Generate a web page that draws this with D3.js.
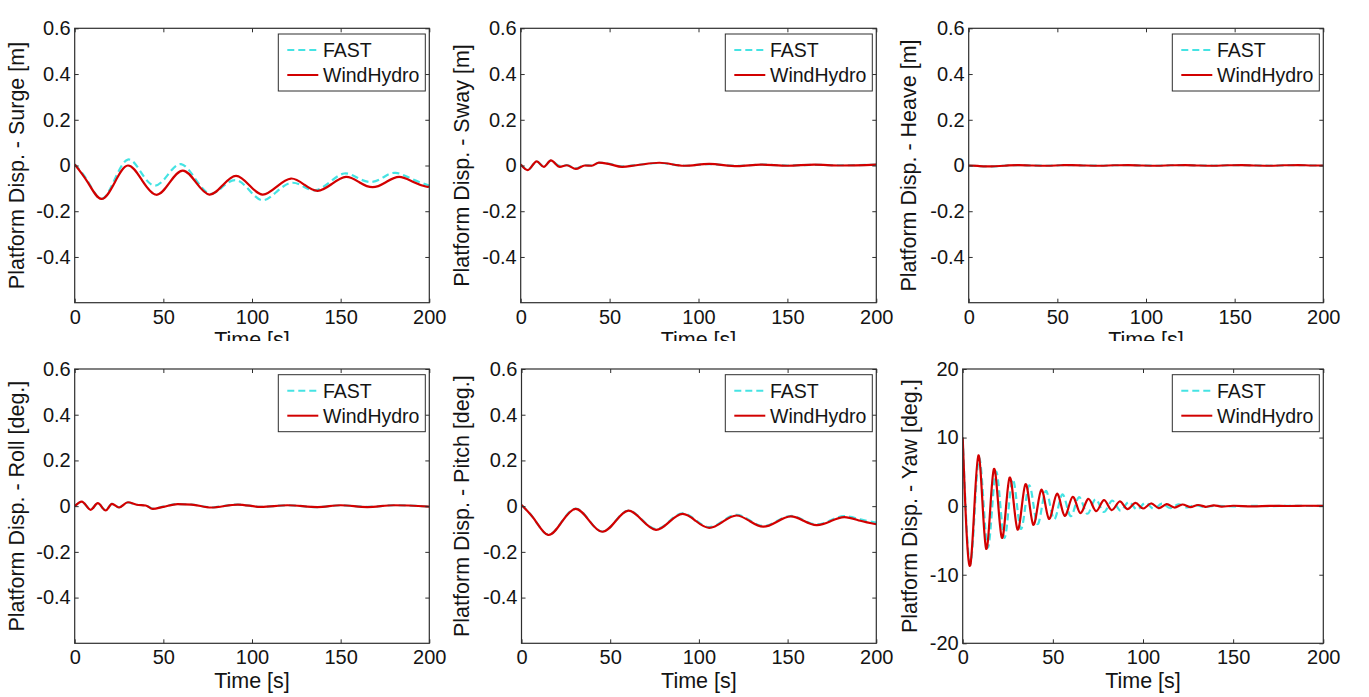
<!DOCTYPE html>
<html><head><meta charset="utf-8">
<script src="https://cdn.jsdelivr.net/npm/d3@7"></script>
<style>
body{margin:0;background:#fff}
svg{display:block}
text{font-family:"Liberation Sans",Arial,sans-serif;fill:#141414}
</style>
</head><body>
<svg id="chart" width="1369" height="697"></svg>
<script>
// ---------------- data ----------------
const seriesNames = ["FAST", "WindHydro"];
const xTickValues = [0, 50, 100, 150, 200];
const xTickLabels = ["0", "50", "100", "150", "200"];
const dispTickValues = [-0.4, -0.2, 0, 0.2, 0.4, 0.6];
const dispTickLabels = ["-0.4", "-0.2", "0", "0.2", "0.4", "0.6"];
const yawTickValues = [-20, -10, 0, 10, 20];
const yawTickLabels = ["-20", "-10", "0", "10", "20"];

// Surge [m]
const surgeTimeFAST = [0,7.5,15,22.5,30,37.5,45,52.5,60,68,76,83.5,91,98.5,106,114,122,129,136,144,152,159.5,167,174,181,190.5,200];
const surgeFAST     = [0.005,-0.07,-0.146,-0.062,0.026,-0.031,-0.088,-0.041,0.006,-0.058,-0.123,-0.093,-0.064,-0.108,-0.152,-0.114,-0.076,-0.092,-0.108,-0.072,-0.035,-0.054,-0.072,-0.052,-0.032,-0.060,-0.088];
const surgeTimeWH   = [0,7.5,15,22.5,30,38,46,53.5,61,68.5,76,83.5,91,98.5,106,114,122,129.5,137,145,153,160.5,168,175.5,183,191,198,200];
const surgeWH       = [0.005,-0.075,-0.146,-0.075,0.0,-0.065,-0.128,-0.075,-0.022,-0.075,-0.127,-0.086,-0.045,-0.086,-0.127,-0.092,-0.057,-0.084,-0.111,-0.081,-0.050,-0.073,-0.095,-0.073,-0.050,-0.072,-0.092,-0.091];

// Sway [m]
const swayTime = [0,4,9,13,17,22,26,31,36,40,44,50,57,65,78,92,106,122,135,150,165,180,200];
const swayFAST = [0.005,-0.019,0.017,-0.005,0.021,-0.002,0.002,-0.013,0.001,0.0,0.012,0.007,-0.004,0.002,0.011,-0.001,0.006,-0.002,0.004,0.0,0.003,0.001,0.004];
const swayWH   = [0.005,-0.020,0.018,-0.006,0.022,-0.006,0.001,-0.015,0.0,-0.001,0.013,0.006,-0.006,0.001,0.012,-0.001,0.007,-0.003,0.004,-0.001,0.004,0.0,0.004];

// Heave [m]
const heaveTime = [0,5,13,20,28,36,44,52,58,66,74,82,90,98,106,114,122,130,138,146,154,162,170,178,186,194,200];
const heaveFAST = [0.0,-0.002,-0.004,-0.001,0.002,0.0,-0.001,0.001,0.002,0.0,-0.001,0.001,0.002,0.0,-0.001,0.001,0.002,0.0,-0.001,0.001,0.002,0.0,-0.001,0.001,0.002,0.0,0.0];
const heaveWH   = [0.0,-0.002,-0.004,-0.001,0.002,0.0,-0.001,0.001,0.002,0.0,-0.001,0.001,0.002,0.0,-0.001,0.001,0.002,0.0,-0.001,0.001,0.002,0.0,-0.001,0.001,0.002,0.0,0.0];

// Roll [deg.]
const rollTime = [0,4,9,13,17.5,21,25,30,35,40,44,50,58,66,77,92,105,120,137,150,165,180,200];
const rollFAST = [0.0,0.019,-0.015,0.012,-0.018,0.010,-0.005,0.016,0.006,0.004,-0.011,-0.002,0.009,0.007,-0.005,0.007,-0.003,0.004,-0.004,0.004,-0.003,0.004,-0.002];
const rollWH   = [0.0,0.020,-0.016,0.013,-0.019,0.010,-0.006,0.017,0.006,0.003,-0.012,-0.003,0.009,0.007,-0.006,0.007,-0.003,0.004,-0.004,0.004,-0.004,0.004,-0.002];

// Pitch [deg.]
const pitchTime = [0,7.5,15,22.7,30.5,38,45.5,53,60.3,68,75.8,83.3,90.8,98.3,105.8,113.5,121.2,128.8,136.3,144,151.7,159,166.4,174.2,182,191,200];
const pitchFAST = [0.005,-0.06,-0.125,-0.068,-0.011,-0.061,-0.111,-0.065,-0.019,-0.060,-0.100,-0.066,-0.031,-0.062,-0.092,-0.065,-0.038,-0.063,-0.087,-0.065,-0.043,-0.061,-0.080,-0.062,-0.044,-0.058,-0.072];
const pitchWH   = [0.005,-0.06,-0.126,-0.069,-0.012,-0.062,-0.112,-0.066,-0.020,-0.062,-0.104,-0.069,-0.034,-0.065,-0.095,-0.068,-0.041,-0.066,-0.090,-0.068,-0.045,-0.064,-0.083,-0.066,-0.048,-0.064,-0.079];

// Yaw [deg.]
const yawTimeFAST = [0,4.5,9.1,13.8,18.4,23.0,27.6,32.2,36.8,41.4,46.0,50.6,55.2,59.8,64.4,69.0,73.6,78.2,82.8,87.4,92.0,96.6,101.2,105.8,110.4,115.0,119.6,124.2,128.8,133.4,140,150,160,170,180,190,200];
const yawFAST     = [10,-8.2,7.0,-6.0,5.0,-4.6,3.9,-3.3,3.0,-2.6,2.2,-1.9,1.7,-1.45,1.3,-1.1,1.0,-0.85,0.8,-0.65,0.62,-0.5,0.48,-0.38,0.36,-0.27,0.25,-0.18,0.15,-0.1,0.05,-0.03,0.04,0.0,0.05,0.02,0.04];
const yawTimeWH   = [0,4.3,8.7,13.0,17.3,21.7,26.0,30.4,34.8,39.1,43.5,47.8,52.2,56.5,60.9,65.2,69.6,73.9,78.3,82.6,87.0,91.3,95.7,100,104.4,108.7,113.1,117.4,121.8,126.1,130.5,134.8,139.2,143.5,150,160,170,180,190,200];
const yawWH       = [10,-8.5,7.4,-6.2,5.4,-4.6,4.15,-3.4,3.2,-2.7,2.37,-1.84,1.8,-1.4,1.35,-1.0,1.06,-0.72,0.87,-0.58,0.68,-0.43,0.48,-0.34,0.39,-0.29,0.29,-0.2,0.24,-0.15,0.17,-0.1,0.12,-0.06,0.06,-0.03,0.05,0.02,0.06,0.03];

// ---------------- drawing ----------------
const COLOR_FAST = "#45e3e3";
const COLOR_WH = "#d20000";
const AXIS_COLOR = "#2e2e2e";
const FONT = '"Liberation Sans",Arial,sans-serif';

const svg = d3.select("#chart");
svg.append("rect").attr("width", 1369).attr("height", 697).attr("fill", "#fff");

const panels = [
  {ylabel:"Platform Disp. - Surge [m]", left:74.7, right:429.3, top:28.3, bottom:302.7, ylx:23.5, yDom:[-0.6,0.6], tv:dispTickValues, tl:dispTickLabels, tF:surgeTimeFAST, vF:surgeFAST, tW:surgeTimeWH, vW:surgeWH, topRow:true, curve:d3.curveNatural},
  {ylabel:"Platform Disp. - Sway [m]", left:520.7, right:876.3, top:28.3, bottom:302.7, ylx:469, yDom:[-0.6,0.6], tv:dispTickValues, tl:dispTickLabels, tF:swayTime, vF:swayFAST, tW:swayTime, vW:swayWH, topRow:true, curve:d3.curveMonotoneX},
  {ylabel:"Platform Disp. - Heave [m]", left:968.7, right:1323.3, top:28.3, bottom:302.7, ylx:916, yDom:[-0.6,0.6], tv:dispTickValues, tl:dispTickLabels, tF:heaveTime, vF:heaveFAST, tW:heaveTime, vW:heaveWH, topRow:true, curve:d3.curveMonotoneX},
  {ylabel:"Platform Disp. - Roll [deg.]", left:74.7, right:429.3, top:369, bottom:643.3, ylx:23.5, yDom:[-0.6,0.6], tv:dispTickValues, tl:dispTickLabels, tF:rollTime, vF:rollFAST, tW:rollTime, vW:rollWH, topRow:false, curve:d3.curveMonotoneX},
  {ylabel:"Platform Disp. - Pitch [deg.]", left:521.5, right:876.3, top:369, bottom:643.3, ylx:469, yDom:[-0.6,0.6], tv:dispTickValues, tl:dispTickLabels, tF:pitchTime, vF:pitchFAST, tW:pitchTime, vW:pitchWH, topRow:false, curve:d3.curveNatural},
  {ylabel:"Platform Disp. - Yaw [deg.]", left:962.7, right:1323.3, top:369, bottom:643.3, ylx:917, yDom:[-20,20], tv:yawTickValues, tl:yawTickLabels, tF:yawTimeFAST, vF:yawFAST, tW:yawTimeWH, vW:yawWH, topRow:false, curve:d3.curveNatural}
];

const defs = svg.append("defs");
defs.append("clipPath").attr("id","topLabelClip").append("rect").attr("x",0).attr("y",0).attr("width",1369).attr("height",341);

panels.forEach((p, i) => {
  const g = svg.append("g");
  const x = d3.scaleLinear().domain([0, 200]).range([p.left, p.right]);
  const y = d3.scaleLinear().domain(p.yDom).range([p.bottom, p.top]);

  defs.append("clipPath").attr("id", "plot" + i).append("rect")
    .attr("x", p.left).attr("y", p.top).attr("width", p.right - p.left).attr("height", p.bottom - p.top);

  const line = d3.line().x(d => x(d[0])).y(d => y(d[1])).curve(p.curve);
  const lg = g.append("g").attr("clip-path", `url(#plot${i})`);
  lg.append("path").datum(d3.zip(p.tF, p.vF)).attr("d", line)
    .attr("fill", "none").attr("stroke", COLOR_FAST).attr("stroke-width", 2.2).attr("stroke-dasharray", "7,4");
  lg.append("path").datum(d3.zip(p.tW, p.vW)).attr("d", line)
    .attr("fill", "none").attr("stroke", COLOR_WH).attr("stroke-width", 2.2).attr("stroke-linejoin", "round");

  // axes (inward ticks on all sides)
  const styleAxis = sel => {
    sel.select(".domain").remove();
    sel.selectAll(".tick line").attr("stroke", AXIS_COLOR);
    sel.selectAll(".tick text").attr("fill", "#141414").style("font-size", "20px").style("font-family", FONT);
  };
  g.append("g").attr("transform", `translate(0,${p.bottom})`)
    .call(d3.axisBottom(x).tickValues(xTickValues).tickFormat((d, k) => xTickLabels[k]).tickSizeInner(-4).tickSizeOuter(0).tickPadding(7))
    .call(styleAxis);
  g.append("g").attr("transform", `translate(0,${p.top})`)
    .call(d3.axisTop(x).tickValues(xTickValues).tickFormat("").tickSizeInner(-4).tickSizeOuter(0))
    .call(styleAxis);
  g.append("g").attr("transform", `translate(${p.left},0)`)
    .call(d3.axisLeft(y).tickValues(p.tv).tickFormat((d, k) => p.tl[k]).tickSizeInner(-4).tickSizeOuter(0).tickPadding(4))
    .call(styleAxis);
  g.append("g").attr("transform", `translate(${p.right},0)`)
    .call(d3.axisRight(y).tickValues(p.tv).tickFormat("").tickSizeInner(-4).tickSizeOuter(0))
    .call(styleAxis);

  g.append("rect").attr("x", p.left).attr("y", p.top).attr("width", p.right - p.left).attr("height", p.bottom - p.top)
    .attr("fill", "none").attr("stroke", AXIS_COLOR).attr("stroke-width", 1.2);

  // axis labels
  const xl = g.append("text").attr("x", (p.left + p.right) / 2).attr("y", p.bottom + 44.7)
    .attr("text-anchor", "middle").style("font-size", "21.5px").text("Time [s]");
  if (p.topRow) xl.attr("clip-path", "url(#topLabelClip)");
  g.append("text").attr("transform", `translate(${p.ylx},${(p.top + p.bottom) / 2}) rotate(-90)`)
    .attr("text-anchor", "middle").style("font-size", "21.5px").text(p.ylabel);

  // legend
  const bx = p.right - 151, by = p.top + 5.7;
  const leg = g.append("g").attr("transform", `translate(${bx},${by})`);
  leg.append("rect").attr("width", 147).attr("height", 57).attr("fill", "#fff").attr("stroke", AXIS_COLOR).attr("stroke-width", 1);
  const rows = [{name: seriesNames[0], color: COLOR_FAST, dash: "7,4", y: 16}, {name: seriesNames[1], color: COLOR_WH, dash: null, y: 41}];
  rows.forEach(r => {
    leg.append("line").attr("x1", 9).attr("x2", 40).attr("y1", r.y).attr("y2", r.y)
      .attr("stroke", r.color).attr("stroke-width", 2).attr("stroke-dasharray", r.dash);
    leg.append("text").attr("x", 44.7).attr("y", r.y + 7).style("font-size", "19.5px").text(r.name);
  });
});
</script>
</body></html>
